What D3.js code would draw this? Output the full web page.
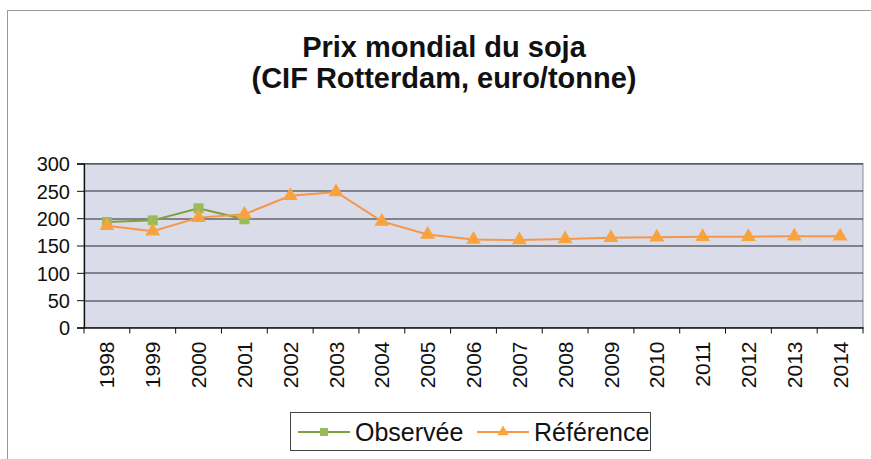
<!DOCTYPE html>
<html>
<head>
<meta charset="utf-8">
<script src="https://cdn.jsdelivr.net/npm/d3@7"></script>
<style>
  body { margin: 0; background: #fff; }
  svg text { font-family: "Liberation Sans", Arial, sans-serif; fill: #111; }
</style>
</head>
<body>
<svg id="chart" width="871" height="459"></svg>
<script>
// data
let years = ["1998", "1999", "2000", "2001", "2002", "2003", "2004", "2005", "2006",
  "2007", "2008", "2009", "2010", "2011", "2012", "2013", "2014"]
let observee = [193, 196, 218, 198]
let reference = [186, 176, 201, 207, 241, 248, 194, 170, 161, 160, 162, 164, 165, 166, 166, 167, 167]
let yTicks = [0, 50, 100, 150, 200, 250, 300]
let titleLines = ["Prix mondial du soja", "(CIF Rotterdam, euro/tonne)"]

let svg = d3.select("#chart")

let plotVars = ({
  left: 84,
  top: 163.5,
  width: 779,
  height: 164
})

// outer frame
svg.append("rect")
  .attr("x", 7.5).attr("y", 10.5)
  .attr("width", 880).attr("height", 470)
  .attr("fill", "none")
  .attr("stroke", "#9a9a9a")

// title
svg.selectAll(".title")
  .data(titleLines)
  .enter()
  .append("text")
  .attr("class", "title")
  .attr("x", 444)
  .attr("y", function (d, i) { return 57 + i * 31 })
  .attr("text-anchor", "middle")
  .style("font-size", "29px")
  .style("font-weight", "bold")
  .text(function (d) { return d })

let plot = svg.append("g")
  .attr("transform", `translate(${plotVars.left}, ${plotVars.top})`)

let xScale = d3.scaleBand()
  .domain(years)
  .range([0, plotVars.width])

let yScale = d3.scaleLinear()
  .domain([0, 300])
  .range([plotVars.height, 0])

// plot background
plot.append("rect")
  .attr("width", plotVars.width)
  .attr("height", plotVars.height)
  .attr("fill", "#dadcea")
  .attr("stroke", "#8c8c8c")

// gridlines
plot.selectAll(".grid")
  .data(yTicks.slice(1))
  .enter()
  .append("line")
  .attr("class", "grid")
  .attr("x1", 0)
  .attr("x2", plotVars.width)
  .attr("y1", function (d) { return Math.round(yScale(d)) + 0.5 })
  .attr("y2", function (d) { return Math.round(yScale(d)) + 0.5 })
  .attr("stroke", "#2a2a2a")
  .attr("stroke-width", 1.2)

// y axis
let yAxis = d3.axisLeft(yScale)
  .tickValues(yTicks)
  .tickSize(7)
  .tickPadding(7)

let yAxisGroup = plot.append("g").call(yAxis)
yAxisGroup.selectAll("text").style("font-size", "20px").attr("dy", "0.36em")

// x axis, ticks between categories
let xAxisGroup = plot.append("g")
  .attr("transform", `translate(0, ${plotVars.height})`)
  .call(d3.axisBottom(xScale).tickSize(0).tickPadding(0))

xAxisGroup.selectAll(".tick text")
  .style("font-size", "21px")
  .attr("text-anchor", "end")
  .attr("transform", "translate(0, 14) rotate(-90)")
  .attr("dy", "0.36em")
  .attr("y", 0)

xAxisGroup.selectAll(".sep")
  .data(d3.range(years.length + 1))
  .enter()
  .append("line")
  .attr("class", "sep")
  .attr("x1", function (d) { return d * xScale.step() })
  .attr("x2", function (d) { return d * xScale.step() })
  .attr("y1", 0)
  .attr("y2", 6)
  .attr("stroke", "#111")

svg.selectAll(".domain").attr("stroke", "#111").attr("stroke-width", 1.3)
svg.selectAll(".tick line").attr("stroke", "#111")

// lines and markers
let cx = function (d, i) { return xScale(years[i]) + xScale.bandwidth() / 2 }

let line = d3.line()
  .x(cx)
  .y(function (d) { return yScale(d) })

plot.append("path")
  .datum(observee)
  .attr("d", line)
  .attr("fill", "none")
  .attr("stroke", "#7f9e3c")
  .attr("stroke-width", 2)

plot.selectAll(".obs")
  .data(observee)
  .enter()
  .append("rect")
  .attr("class", "obs")
  .attr("x", function (d, i) { return cx(d, i) - 5 })
  .attr("y", function (d) { return yScale(d) - 5 })
  .attr("width", 10)
  .attr("height", 10)
  .attr("fill", "#9bbb59")

plot.append("path")
  .datum(reference)
  .attr("d", line)
  .attr("fill", "none")
  .attr("stroke", "#f79646")
  .attr("stroke-width", 2)

let triangle = d3.symbol().type(d3.symbolTriangle).size(95)

plot.selectAll(".ref")
  .data(reference)
  .enter()
  .append("path")
  .attr("class", "ref")
  .attr("d", triangle)
  .attr("transform", function (d, i) { return `translate(${cx(d, i)}, ${yScale(d)})` })
  .attr("fill", "#f9a33e")

// legend
let legend = svg.append("g")
legend.append("rect")
  .attr("x", 290.5).attr("y", 412.5)
  .attr("width", 360).attr("height", 38)
  .attr("fill", "#fff")
  .attr("stroke", "#444")

let legendItems = [
  { name: "Observée", color: "#7f9e3c", fill: "#9bbb59", x: 298, marker: "square" },
  { name: "Référence", color: "#f79646", fill: "#f9a33e", x: 477, marker: "triangle" }
]

legendItems.forEach(function (item) {
  legend.append("line")
    .attr("x1", item.x).attr("x2", item.x + 52)
    .attr("y1", 432).attr("y2", 432)
    .attr("stroke", item.color)
    .attr("stroke-width", 2)
  if (item.marker == "square") {
    legend.append("rect")
      .attr("x", item.x + 22).attr("y", 428)
      .attr("width", 8).attr("height", 8)
      .attr("fill", item.fill)
  } else {
    legend.append("path")
      .attr("d", d3.symbol().type(d3.symbolTriangle).size(55))
      .attr("transform", `translate(${item.x + 26}, 432)`)
      .attr("fill", item.fill)
  }
  legend.append("text")
    .attr("x", item.x + 57)
    .attr("y", 441)
    .style("font-size", "25px")
    .text(item.name)
})
</script>
</body>
</html>
